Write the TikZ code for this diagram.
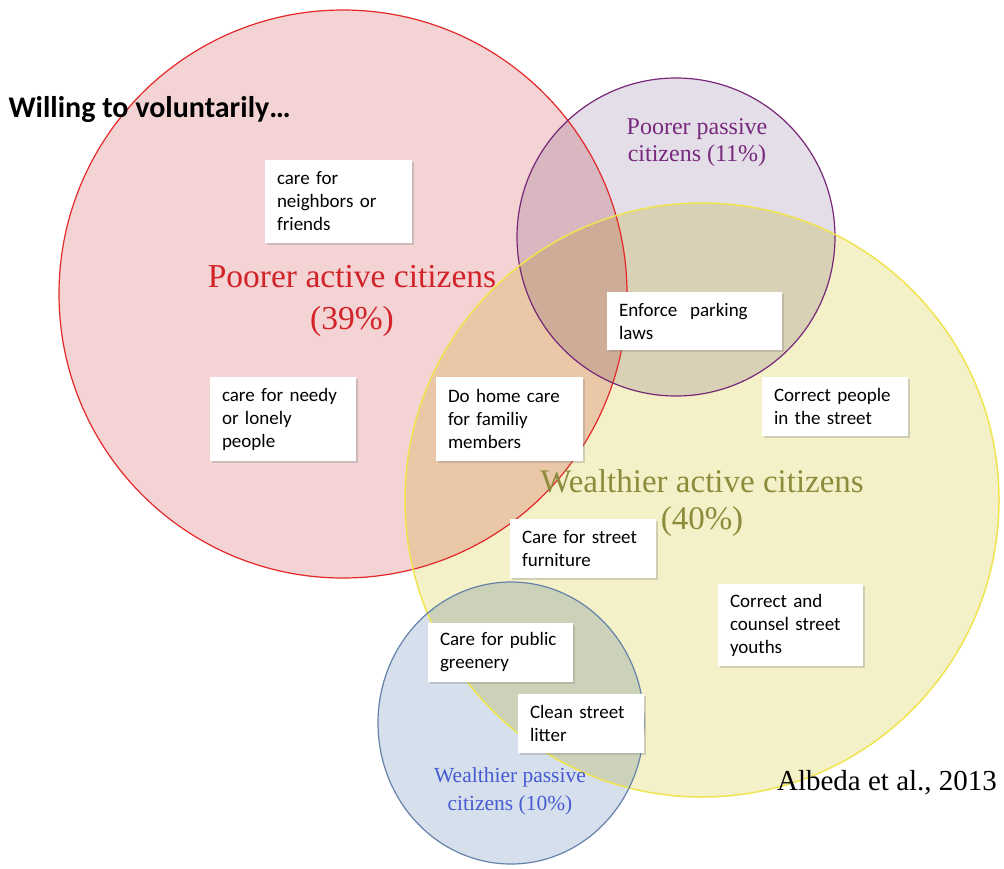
\documentclass[tikz,border=0pt]{standalone}
\usepackage{fontspec}
\setmainfont{Liberation Serif}
\newfontfamily\boxfont{Carlito}
\usetikzlibrary{shadows}
\definecolor{redfill}{RGB}{244,211,213}
\definecolor{purfill}{RGB}{227,222,232}
\definecolor{yelfill}{RGB}{244,241,200}
\definecolor{blufill}{RGB}{214,223,236}
\definecolor{redline}{RGB}{228,40,40}
\definecolor{purline}{RGB}{120,40,120}
\definecolor{yelline}{RGB}{240,228,80}
\definecolor{bluline}{RGB}{100,130,170}
\definecolor{redtext}{RGB}{210,35,40}
\definecolor{purtext}{RGB}{120,40,125}
\definecolor{oltext}{RGB}{140,140,60}
\definecolor{blutext}{RGB}{70,90,210}
\newcommand\bxl[1]{\mbox{#1}}
\tikzset{
  setfill/.style={blend mode=multiply},
  box/.style={fill=white, align=left, inner xsep=12pt, inner ysep=0pt,
    font=\boxfont\fontsize{19}{23}\selectfont, anchor=center,
    drop shadow={shadow xshift=1.5pt, shadow yshift=-2pt, opacity=0.3}},
  biglabel/.style={align=center, font=\fontsize{33.5}{42}\selectfont},
  midlabel/.style={align=center, font=\fontsize{24}{27}\selectfont},
}
\begin{document}
\begin{tikzpicture}[x=1pt,y=-1pt]
\useasboundingbox (0,0) rectangle (1004,868);
\fill[white] (0,0) rectangle (1004,868);
% fills
\fill[redfill, setfill] (343,294) ellipse [x radius=284pt, y radius=284pt];
\fill[purfill, setfill] (676,237) ellipse [x radius=159pt, y radius=159pt];
\fill[yelfill, setfill] (702,500) ellipse [x radius=297pt, y radius=297pt];
\fill[blufill, setfill] (511,723) ellipse [x radius=133pt, y radius=141pt];
% outlines
\draw[redline, line width=1.2pt] (343,294) ellipse [x radius=284pt, y radius=284pt];
\draw[purline, line width=1.2pt] (676,237) ellipse [x radius=159pt, y radius=159pt];
\draw[yelline, line width=1.5pt] (702,500) ellipse [x radius=297pt, y radius=297pt];
\draw[bluline, line width=1.2pt] (511,723) ellipse [x radius=133pt, y radius=141pt];
% labels
\node[anchor=west, font=\boxfont\bfseries\fontsize{30}{34}\selectfont] (title) at (5,110) {Willing to voluntarily\ldots};
\node[biglabel, text=redtext] (lpa) at (352,301) {Poorer active citizens\\(39\%)};
\node[midlabel, text=purtext] (lpp) at (697,143) {Poorer passive\\citizens (11\%)};
\node[biglabel, text=oltext, font=\fontsize{33}{37}\selectfont] (lwa) at (702,503) {Wealthier active citizens\\(40\%)};
\node[midlabel, text=blutext, font=\fontsize{21.5}{28}\selectfont] (lwp) at (510,791) {Wealthier passive\\citizens (10\%)};
\node[font=\fontsize{29}{32}\selectfont] (cite) at (887,783) {Albeda et al., 2013};
% boxes
\node[box, minimum height=83pt, text width=123pt] (nbr) at (338.5,201.5) {\bxl{care for}\\\bxl{neighbors or}\\\bxl{friends}};
\node[box, minimum height=58pt, text width=151pt] (park) at (694.5,321) {\bxl{Enforce~ parking}\\\bxl{laws}};
\node[box, minimum height=84pt, text width=122pt] (needy) at (283,419) {\bxl{care for needy}\\\bxl{or lonely}\\\bxl{people}};
\node[box, minimum height=84pt, text width=123pt] (home) at (509.5,419) {\bxl{Do home care}\\\bxl{for familiy}\\\bxl{members}};
\node[box, minimum height=59pt, text width=122pt] (street) at (835,406.5) {\bxl{Correct people}\\\bxl{in the street}};
\node[box, minimum height=59pt, text width=122pt] (furn) at (583,548.5) {\bxl{Care for street}\\\bxl{furniture}};
\node[box, minimum height=82pt, text width=121pt] (youth) at (790.5,625) {\bxl{Correct and}\\\bxl{counsel street}\\\bxl{youths}};
\node[box, minimum height=59pt, text width=121pt] (green) at (500.5,652.5) {\bxl{Care for public}\\\bxl{greenery}};
\node[box, minimum height=59pt, text width=102pt] (litter) at (581,723.5) {\bxl{Clean street}\\\bxl{litter}};
\end{tikzpicture}
\end{document}
